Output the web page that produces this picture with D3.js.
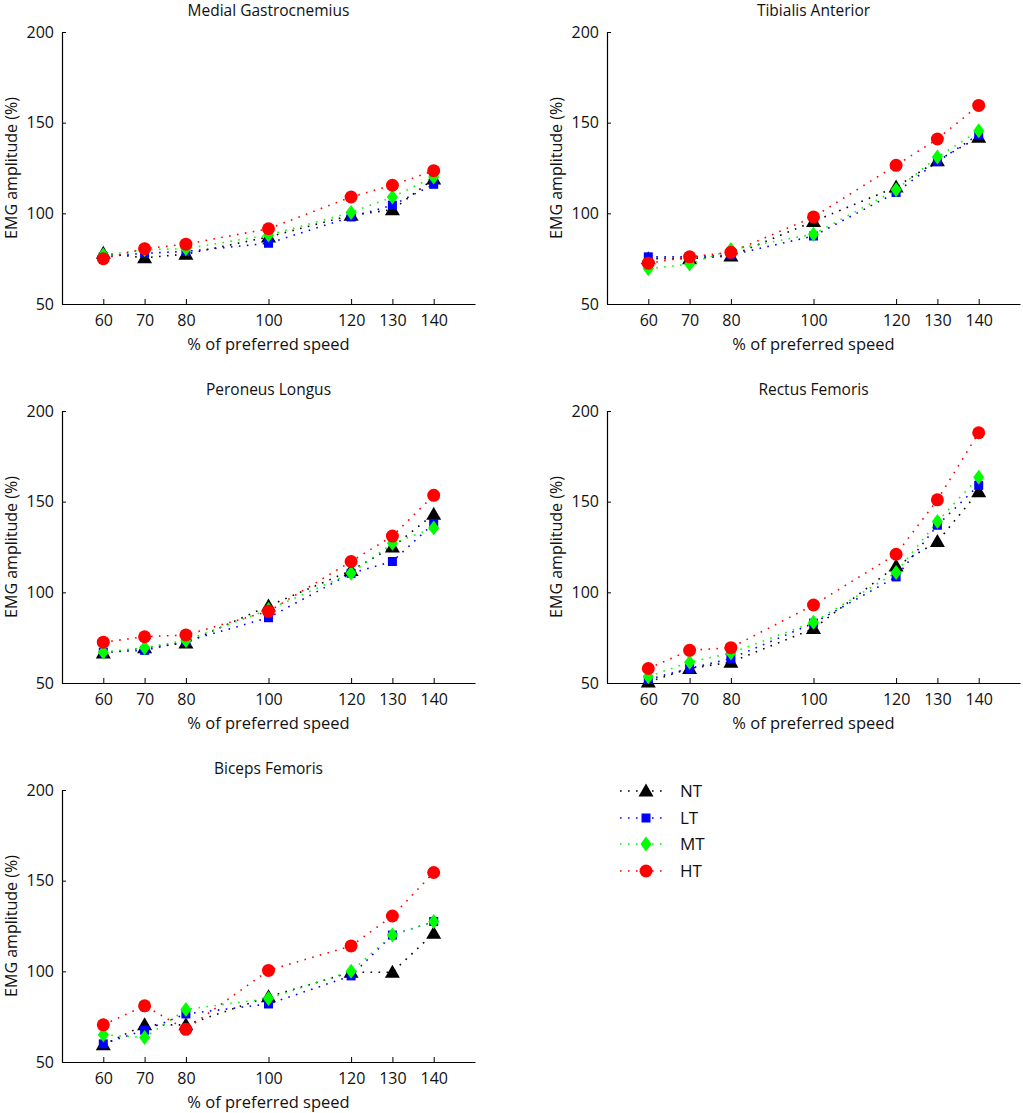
<!DOCTYPE html>
<html>
<head>
<meta charset="utf-8">
<script src="https://cdn.jsdelivr.net/npm/d3@7"></script>
<style>
  body { margin: 0; background: #fff; }
  svg { display: block; font-family: "Open Sans", "Noto Sans", sans-serif; }
</style>
</head>
<body>
<svg id="chart" width="1023" height="1113"></svg>
<script>
// ---- data ----
const speeds = [60, 70, 80, 100, 120, 130, 140];
const muscles = ["Medial Gastrocnemius", "Tibialis Anterior", "Peroneus Longus", "Rectus Femoris", "Biceps Femoris"];
const seriesNames = ["NT", "LT", "MT", "HT"];
const xTicks = [60, 70, 80, 100, 120, 130, 140];
const yTicks = [50, 100, 150, 200];

// Medial Gastrocnemius
const mgNT = [78, 75.5, 77.5, 87, 99, 102, 119];
const mgLT = [76, 78, 79, 83.5, 98, 104.5, 116];
const mgMT = [77, 80, 80.5, 88, 100.5, 109, 120];
const mgHT = [75, 80.5, 83, 91.5, 109, 115.5, 123.5];
// Tibialis Anterior
const taNT = [75, 75, 76.5, 95.5, 114.5, 129, 142];
const taLT = [76, 76, 77, 87.5, 111.5, 128.5, 143.5];
const taMT = [69.5, 72, 80, 88.5, 113, 131, 145.5];
const taHT = [72.5, 76, 78.5, 98, 126.5, 141, 159.5];
// Peroneus Longus
const plNT = [66.5, 69.5, 72, 92.5, 112, 125, 143];
const plLT = [67, 68, 73, 86, 110.5, 117, 138];
const plMT = [67, 69.5, 73.5, 90.5, 110.5, 127, 135.5];
const plHT = [72.5, 75.5, 76.5, 89.5, 117, 131, 153.5];
// Rectus Femoris
const rfNT = [50.5, 58, 61.5, 80, 114.5, 128, 155.5];
const rfLT = [52, 58, 63.5, 83, 108.5, 137, 159];
const rfMT = [53.5, 61.5, 66.5, 83.5, 111, 139, 163.5];
const rfHT = [58, 68, 69.5, 93, 121, 151, 188];
// Biceps Femoris
const bfNT = [59.5, 70.5, 70.5, 86, 99.5, 99.5, 121];
const bfLT = [60, 67.5, 76.5, 82, 97.5, 120, 127.5];
const bfMT = [65, 63.5, 79, 85, 100, 120, 127.5];
const bfHT = [70.5, 81, 68, 100.5, 114, 130.5, 154.5];

const panelData = [
  [mgNT, mgLT, mgMT, mgHT],
  [taNT, taLT, taMT, taHT],
  [plNT, plLT, plMT, plHT],
  [rfNT, rfLT, rfMT, rfHT],
  [bfNT, bfLT, bfMT, bfHT]
];

// ---- layout / style ----
const panelPos = [
  {left: 62, top: 32},
  {left: 607, top: 32},
  {left: 62, top: 411},
  {left: 607, top: 411},
  {left: 62, top: 790}
];
const W = 413, H = 272;
const colors = {NT: "#000000", LT: "#0000ff", MT: "#00ff00", HT: "#ff0000"};

const svg = d3.select("#chart");

function drawMarker(g, name, x, y) {
  const c = colors[name];
  if (name === "NT") {
    g.append("path").attr("d", `M${x},${y-7.5}L${x+7.5},${y+5.5}L${x-7.5},${y+5.5}Z`).attr("fill", c);
  } else if (name === "LT") {
    g.append("rect").attr("x", x-4.5).attr("y", y-4.5).attr("width", 9).attr("height", 9).attr("fill", c);
  } else if (name === "MT") {
    g.append("path").attr("d", `M${x},${y-7.5}L${x+5.5},${y}L${x},${y+7.5}L${x-5.5},${y}Z`).attr("fill", c);
  } else {
    g.append("circle").attr("cx", x).attr("cy", y).attr("r", 6.5).attr("fill", c);
  }
}

panelPos.forEach((p, i) => {
  const g = svg.append("g").attr("transform", `translate(${p.left},${p.top})`);
  const x = d3.scaleLinear().domain([50, 150]).range([0, W]);
  const y = d3.scaleLinear().domain([50, 200]).range([H, 0]);

  // axes
  const xAxis = d3.axisBottom(x).tickValues(xTicks).tickSizeInner(-5).tickSizeOuter(0).tickPadding(11);
  const yAxis = d3.axisLeft(y).tickValues(yTicks).tickSizeInner(-4).tickSizeOuter(0).tickPadding(8);
  const gx = g.append("g").attr("transform", `translate(0,${H})`).call(xAxis);
  const gy = g.append("g").call(yAxis);
  [gx, gy].forEach(a => {
    a.select(".domain").attr("stroke", "#000").attr("stroke-width", 1.2);
    a.selectAll(".tick line").attr("stroke", "#000").attr("stroke-width", 1);
    a.selectAll(".tick text").attr("font-size", 16).attr("fill", "#111").attr("font-family", "'Open Sans', sans-serif");
  });

  // title
  g.append("text").attr("x", W / 2).attr("y", -16).attr("text-anchor", "middle")
    .attr("font-size", 15.5).attr("fill", "#111").text(muscles[i]);
  // x label
  g.append("text").attr("x", W / 2).attr("y", H + 46).attr("text-anchor", "middle")
    .attr("font-size", 16.5).attr("fill", "#111").text("% of preferred speed");
  // y label
  g.append("text").attr("transform", `translate(${-45},${H / 2}) rotate(-90)`).attr("text-anchor", "middle")
    .attr("font-size", 16).attr("fill", "#111").text("EMG amplitude (%)");

  const line = d3.line().x((d, j) => x(speeds[j])).y(d => y(d));
  panelData[i].forEach((vals, s) => {
    const name = seriesNames[s];
    g.append("path").datum(vals).attr("d", line).attr("fill", "none")
      .attr("stroke", colors[name]).attr("stroke-width", 1.6)
      .attr("stroke-dasharray", "1.6,6.4");
  });
  panelData[i].forEach((vals, s) => {
    const name = seriesNames[s];
    vals.forEach((v, j) => drawMarker(g, name, x(speeds[j]), y(v)));
  });
});

// legend
const legend = svg.append("g");
const legendY = [791, 818, 844, 871];
seriesNames.forEach((name, k) => {
  const ly = legendY[k];
  legend.append("line").attr("x1", 620).attr("x2", 668).attr("y1", ly).attr("y2", ly)
    .attr("stroke", colors[name]).attr("stroke-width", 1.6).attr("stroke-dasharray", "1.6,6.4");
  drawMarker(legend, name, 646, ly);
  legend.append("text").attr("x", 680).attr("y", ly + 6).attr("font-size", 17).attr("fill", "#111").text(name);
});
</script>
</body>
</html>
